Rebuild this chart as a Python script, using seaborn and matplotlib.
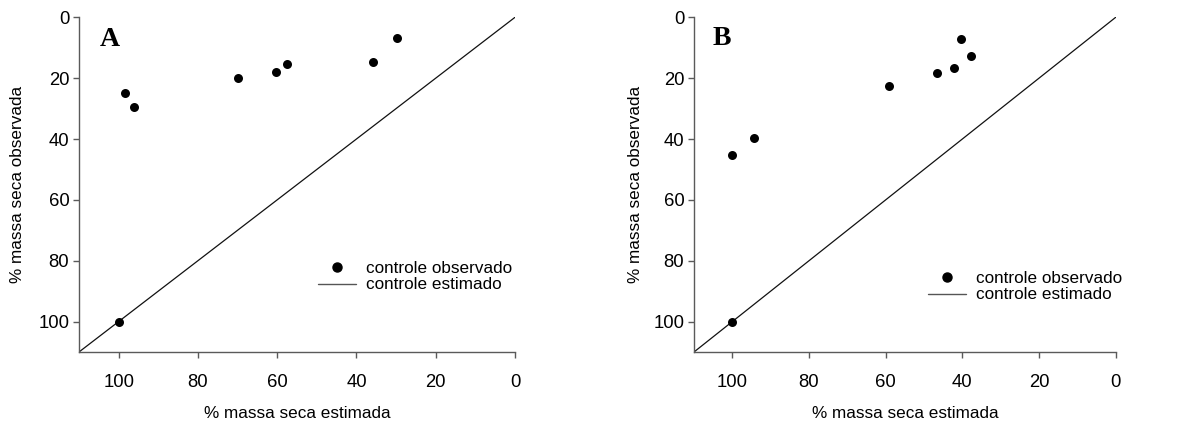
import matplotlib
matplotlib.use("Agg")
import matplotlib.pyplot as plt
from matplotlib.lines import Line2D
import seaborn as sns
import pandas as pd

# Control plots: estimated vs observed % dry mass
est_a = [100, 98.5, 96.0, 70.0, 60.4, 57.6, 35.9, 29.8]
obs_a = [100, 24.9, 29.5, 19.9, 17.9, 15.4, 14.8, 6.7]

est_b = [100, 100, 94.3, 59.1, 46.7, 42.2, 40.4, 37.7]
obs_b = [100, 45.4, 39.8, 22.6, 18.3, 16.8, 7.2, 12.7]

identity = [110, 0]
ticks = [0, 20, 40, 60, 80, 100]
panel_labels = ["A", "B"]
legend_labels = ["controle observado", "controle estimado"]

sns.set_theme(style="ticks")
plt.rcParams["font.family"] = ["Liberation Sans", "DejaVu Sans"]
plt.rcParams["text.color"] = "black"
plt.rcParams["axes.labelcolor"] = "black"

fig = plt.figure(figsize=(11.78, 4.22), dpi=100)
W, H = 1178, 422

# axes boxes in pixels: left, top, right, bottom
boxes = [(79, 17.3, 515, 352), (694, 17.3, 1115.7, 352)]
legend_anchor = [(0.548, 0.273), (0.555, 0.243)]
letter_pos = [(0.047, 0.97), (0.045, 0.974)]
ylabel_x = [18, 636]

spine_col = "#5a5a5a"
datasets = [(est_a, obs_a), (est_b, obs_b)]

for i, (est, obs) in enumerate(datasets):
    l, t, r, b = boxes[i]
    ax = fig.add_axes([l / W, 1 - b / H, (r - l) / W, (b - t) / H])
    df = pd.DataFrame({"est": est, "obs": obs})
    sns.lineplot(x=identity, y=identity, ax=ax, color="#111111", lw=0.9)
    sns.scatterplot(data=df, x="est", y="obs", ax=ax, color="black",
                    s=42, edgecolor="black", linewidth=0, zorder=3)
    ax.set_xlim(110, 0)
    ax.set_ylim(110, 0)
    ax.set_xticks(ticks)
    ax.set_yticks(ticks)
    for side in ("top", "right"):
        ax.spines[side].set_visible(False)
    for side in ("left", "bottom"):
        ax.spines[side].set_color(spine_col)
        ax.spines[side].set_linewidth(1.0)
    ax.tick_params(axis="x", direction="out", length=4, width=1.0,
                   color=spine_col, pad=12, labelsize=13.3, labelcolor="black")
    ax.tick_params(axis="y", direction="out", length=4, width=1.0,
                   color=spine_col, pad=3, labelsize=13.3, labelcolor="black")
    ax.set_xlabel("% massa seca estimada", fontsize=12.3, labelpad=11)
    ax.set_ylabel("")
    fig.text(ylabel_x[i] / W, 1 - ((t + b) / 2) / H, "% massa seca observada",
             rotation=90, ha="center", va="center", fontsize=12.3)
    ax.text(letter_pos[i][0], letter_pos[i][1], panel_labels[i],
            transform=ax.transAxes, ha="left", va="top",
            fontsize=20, fontweight="bold", family="Liberation Serif")
    handles = [
        Line2D([], [], marker="o", color="black", linestyle="none",
               markersize=6.5),
        Line2D([], [], color="#555555", lw=1.0),
    ]
    ax.legend(handles, legend_labels, loc="upper left",
              bbox_to_anchor=legend_anchor[i], frameon=False,
              fontsize=12.3, handlelength=2.25, handletextpad=0.55,
              labelspacing=0.08, borderpad=0, borderaxespad=0,
              handleheight=0.5)

fig.savefig("out.png", dpi=100)
